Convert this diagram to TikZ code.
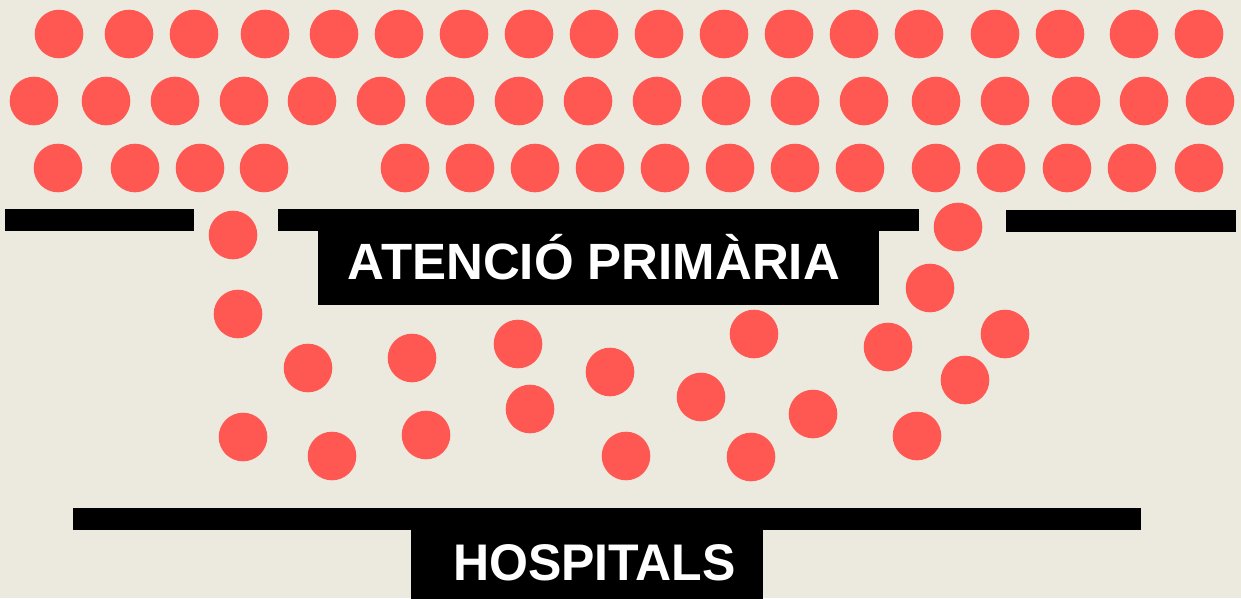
\documentclass[tikz,border=0pt]{standalone}
\usepackage{fontspec}
\setmainfont{Liberation Sans}
\usepackage{tikz}
\usetikzlibrary{shapes, positioning}
\definecolor{paper}{RGB}{236,233,223}
\definecolor{dotred}{RGB}{255,88,82}
\tikzstyle{dot}  = [circle, fill=dotred, minimum size=48.6pt, inner sep=0pt]
\tikzstyle{wall} = [fill=black]
\tikzstyle{box}  = [rectangle, fill=black, inner sep=0pt]
\tikzstyle{tag}  = [text=white, inner sep=0pt, anchor=base, font=\bfseries\fontsize{50}{60}\selectfont]

\begin{document}
\begin{tikzpicture}[x=1pt, y=-1pt]
    \fill[paper] (0,0) rectangle (1241,598);
    \useasboundingbox (0,0) rectangle (1241,598);
    % patients waiting at the top
    \foreach \x [count=\i] in {59,129,194,265,334,399,464,529,594,659,724,789,854,919,995,1060,1134,1199}
        \node[dot](a\i) at (\x,34){};
    \foreach \x [count=\i] in {34,106,175,244,312,381,450,519,588,657,726,795,864,936,1005,1076,1144,1210}
        \node[dot](b\i) at (\x,101){};
    \foreach \x [count=\i] in {58,135,200,264,405,470,535,600,665,730,795,860,936,1001,1067,1132,1199}
        \node[dot](c\i) at (\x,168){};
    % the ones that got through
    \foreach \x/\y [count=\i] in {233/235,238/314,308/368,412/358,518/344,243/437,332/456,426/435,530/409,610/372,626/456,701/397,754/334,751/457,813/414,888/347,917/436,930/288,958/227,965/380,1005/334}
        \node[dot](m\i) at (\x,\y){};
    % atencio primaria
    \fill[wall] (5,209) rectangle (194,231);
    \fill[wall] (278,209) rectangle (919,231);
    \fill[wall] (1006,210) rectangle (1236,232);
    \node[box, minimum width=561pt, minimum height=74pt](ap) at (598.5,268){};
    \node[tag, font=\bfseries\fontsize{51}{60}\selectfont](aptext) at (594,279){ATENCIÓ PRIMÀRIA};
    % hospitals
    \fill[wall] (73,508) rectangle (1141,529.5);
    \node[box, minimum width=352pt, minimum height=70pt](hs) at (587,564){};
    \node[tag, yscale=1.03](hstext) at (594.5,580){HOSPITALS};
\end{tikzpicture}
\end{document}
